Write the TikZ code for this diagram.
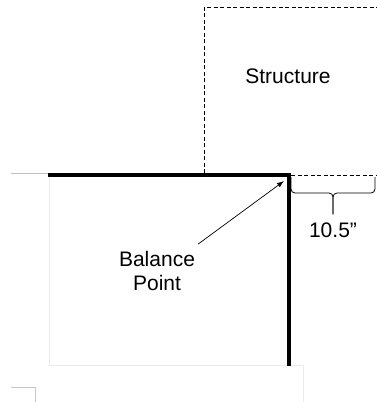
\documentclass[tikz,border=0pt]{standalone}
\usepackage{fontspec}
\setmainfont{Liberation Sans}
\usetikzlibrary{calc, positioning, arrows.meta}

\begin{document}
\begin{tikzpicture}[x=1pt, y=-1pt, >=latex]
        \useasboundingbox (0,0) rectangle (377,402);
        \tikzset{lbl/.style={inner sep=0pt, align=center, font=\fontsize{21}{24}\selectfont},
                 dashedge/.style={dash pattern=on 4pt off 2.5pt, line width=1pt},
                 faint/.style={line width=0.8pt, black!8}}

        % faint page edges
        \draw[faint] (49,177) -- (49,365) -- (303,365) -- (303,402);
        \draw[line width=0.8pt, black!22] (11,387) -- (35,387) -- (35,402);
        \draw[line width=0.8pt, black!25] (11,173) -- (48,173);

        \node[lbl] (struct) at (288,76) {Structure};
        \node[lbl] (bp) at (157,271) {Balance\\Point};
        \node[lbl] (dim) at (333,230) {10.5”};

        \coordinate (corner) at (289,175);
        \coordinate (tip) at (284,181);
        \coordinate (stem) at ($(dim.north)+(0,-8)$);

        % structure outline
        \draw[dashedge] (204,173) -- (204,7) -- (377,7);
        \draw[dashedge] ($(corner)+(2,0)$) -- (377,175);

        % balance edge
        \draw[line width=3.6pt, line join=miter] (48,175) -- (corner) -- (289,366);

        % brace
        \draw[line width=0.8pt, rounded corners=4pt] (291,177) |- (333,193) -- (stem);
        \draw[line width=0.8pt, rounded corners=4pt] (375,177) |- (333,193) -- (stem);

        \draw[-{Latex[length=7pt, width=5pt]}, line width=0.7pt] ($(bp.north east)+(3,-7)$) -- (tip);
    \end{tikzpicture}
\end{document}
